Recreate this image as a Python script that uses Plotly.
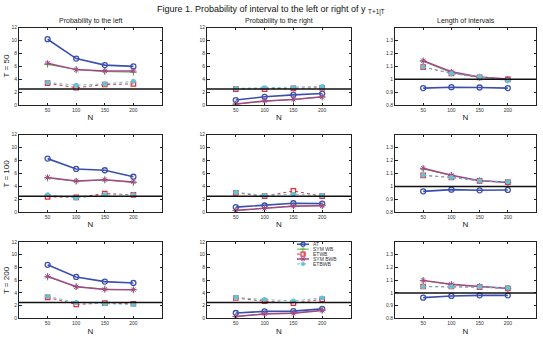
import plotly.graph_objects as go

W, H = 543, 347

N_VALUES = [50, 100, 150, 200]
SERIES = ["AT", "SYM WB", "ETWB", "SYM BWB", "ETBWB"]
ROW_LABELS = ["T = 50", "T = 100", "T = 200"]
COL_TITLES = ["Probability to the left", "Probability to the right", "Length of intervals"]
REF_LINES = [2.5, 2.5, 1.0]

# T = 50
left_T50 = {
    "AT": [10.2, 7.2, 6.2, 6.0],
    "SYM WB": [6.3, 5.5, 5.2, 5.1],
    "ETWB": [3.4, 2.7, 3.2, 3.3],
    "SYM BWB": [6.5, 5.5, 5.3, 5.3],
    "ETBWB": [3.5, 3.1, 3.3, 3.7],
}
right_T50 = {
    "AT": [0.8, 1.3, 1.6, 1.8],
    "SYM WB": [0.15, 0.6, 0.9, 1.25],
    "ETWB": [2.5, 2.5, 2.6, 2.7],
    "SYM BWB": [0.2, 0.65, 0.9, 1.3],
    "ETBWB": [2.6, 2.7, 2.7, 2.9],
}
length_T50 = {
    "AT": [0.932, 0.939, 0.937, 0.932],
    "SYM WB": [1.14, 1.05, 1.015, 0.995],
    "ETWB": [1.095, 1.045, 1.015, 1.0],
    "SYM BWB": [1.144, 1.058, 1.018, 1.003],
    "ETBWB": [1.096, 1.045, 1.02, 0.99],
}
# T = 100
left_T100 = {
    "AT": [8.3, 6.7, 6.5, 5.5],
    "SYM WB": [5.3, 4.8, 5.0, 4.6],
    "ETWB": [2.4, 2.3, 2.9, 2.7],
    "SYM BWB": [5.4, 4.85, 5.05, 4.7],
    "ETBWB": [2.7, 2.2, 2.7, 2.7],
}
right_T100 = {
    "AT": [0.8, 1.05, 1.4, 1.35],
    "SYM WB": [0.25, 0.6, 1.0, 1.05],
    "ETWB": [3.0, 2.5, 3.3, 2.5],
    "SYM BWB": [0.3, 0.6, 0.95, 1.0],
    "ETBWB": [3.1, 2.6, 2.8, 2.6],
}
length_T100 = {
    "AT": [0.962, 0.975, 0.97, 0.973],
    "SYM WB": [1.135, 1.085, 1.045, 1.03],
    "ETWB": [1.085, 1.07, 1.043, 1.033],
    "SYM BWB": [1.14, 1.087, 1.044, 1.033],
    "ETBWB": [1.087, 1.07, 1.044, 1.036],
}
# T = 200
left_T200 = {
    "AT": [8.4, 6.5, 5.77, 5.56],
    "SYM WB": [6.5, 5.0, 4.6, 4.5],
    "ETWB": [3.3, 2.2, 2.4, 2.3],
    "SYM BWB": [6.6, 4.95, 4.55, 4.5],
    "ETBWB": [3.45, 2.5, 2.3, 2.2],
}
right_T200 = {
    "AT": [0.85, 1.1, 1.15, 1.5],
    "SYM WB": [0.3, 0.75, 0.85, 1.3],
    "ETWB": [3.2, 2.7, 2.4, 3.0],
    "SYM BWB": [0.3, 0.7, 0.8, 1.25],
    "ETBWB": [3.3, 2.95, 2.75, 3.2],
}
length_T200 = {
    "AT": [0.963, 0.976, 0.981, 0.981],
    "SYM WB": [1.095, 1.065, 1.05, 1.035],
    "ETWB": [1.05, 1.05, 1.045, 1.035],
    "SYM BWB": [1.098, 1.067, 1.051, 1.036],
    "ETBWB": [1.049, 1.049, 1.046, 1.038],
}

PANELS = [
    [left_T50, right_T50, length_T50],
    [left_T100, right_T100, length_T100],
    [left_T200, right_T200, length_T200],
]

STYLE = {
    "AT": dict(color="#3b4fae", dash="solid", width=1.6, symbol="circle-open", msize=5, mlw=1.3),
    "SYM WB": dict(color="#5cb84a", dash="solid", width=1.0, symbol="cross-thin-open", msize=5, mlw=1.0),
    "ETWB": dict(color="#e0303c", dash="dot", width=1.0, symbol="square-open", msize=4.5, mlw=1.2),
    "SYM BWB": dict(color="#a8468a", dash="solid", width=1.5, symbol="asterisk-open", msize=5, mlw=1.0),
    "ETBWB": dict(color="#62c3d6", dash="dot", width=1.0, symbol="circle", msize=5, mlw=0),
}

FONT = "Liberation Sans, Arial, sans-serif"

col_px = [(19, 162), (207, 351), (395, 536)]
row_px = [(25, 104), (134, 213), (243, 321)]

fig = go.Figure()
layout = {}
ax = 0
for r in range(3):
    for c in range(3):
        ax += 1
        xa = "xaxis" if ax == 1 else f"xaxis{ax}"
        ya = "yaxis" if ax == 1 else f"yaxis{ax}"
        xr = "x" if ax == 1 else f"x{ax}"
        yr = "y" if ax == 1 else f"y{ax}"
        x0, x1 = col_px[c]
        y0, y1 = row_px[r]
        common = dict(showline=True, linecolor="#222", linewidth=1, mirror="ticks",
                      ticks="inside", ticklen=2.5, tickcolor="#222", showgrid=False,
                      zeroline=False, tickfont=dict(size=5, family=FONT, color="#333"))
        layout[xa] = dict(common, domain=[x0 / W, x1 / W], range=[0, 250],
                          tickvals=N_VALUES, anchor=yr,
                          title=dict(text="N", font=dict(size=8, family=FONT, color="#222"), standoff=2))
        if c < 2:
            layout[ya] = dict(common, domain=[1 - y1 / H, 1 - y0 / H], range=[0, 12],
                              tickvals=[0, 2, 4, 6, 8, 10, 12], anchor=xr)
        else:
            layout[ya] = dict(common, domain=[1 - y1 / H, 1 - y0 / H], range=[0.8, 1.4],
                              tickvals=[0.8, 0.9, 1.0, 1.1, 1.2, 1.3],
                              ticktext=["0.8", "0.9", "1", "1.1", "1.2", "1.3"], anchor=xr)
        data = PANELS[r][c]
        for s in SERIES:
            st = STYLE[s]
            fig.add_trace(go.Scatter(
                x=N_VALUES, y=data[s], mode="lines+markers", name=s, showlegend=False,
                xaxis=xr, yaxis=yr,
                line=dict(color=st["color"], dash=st["dash"], width=st["width"]),
                marker=dict(symbol=st["symbol"], size=st["msize"], color=st["color"],
                            line=dict(color=st["color"], width=st["mlw"]))))
        fig.add_shape(type="line", xref=f"{xr} domain", yref=yr, x0=0, x1=1,
                      y0=REF_LINES[c], y1=REF_LINES[c], line=dict(color="#111", width=1.5))

# custom compact legend (in panel row 3, col 2)
LEG_X0, LEG_X1 = 297, 309
LEG_Y0, LEG_Y1 = 243, 268
layout["xaxis10"] = dict(domain=[LEG_X0 / W, LEG_X1 / W], range=[0, 1], visible=False, anchor="y10")
layout["yaxis10"] = dict(domain=[1 - LEG_Y1 / H, 1 - LEG_Y0 / H], range=[len(SERIES) - 0.5, -0.5],
                         visible=False, anchor="x10")
annotations = []
for i, s in enumerate(SERIES):
    st = STYLE[s]
    fig.add_trace(go.Scatter(
        x=[0, 0.5, 1], y=[i, i, i], mode="lines", showlegend=False, xaxis="x10", yaxis="y10",
        line=dict(color=st["color"], dash=st["dash"], width=st["width"]), hoverinfo="skip"))
    fig.add_trace(go.Scatter(
        x=[0.5], y=[i], mode="markers", showlegend=False, xaxis="x10", yaxis="y10",
        marker=dict(symbol=st["symbol"], size=4, color=st["color"],
                    line=dict(color=st["color"], width=st["mlw"])), hoverinfo="skip"))
    annotations.append(dict(text=s, xref="paper", yref="y10", x=(LEG_X1 + 2) / W, y=i,
                            xanchor="left", yanchor="middle", showarrow=False,
                            font=dict(size=5, family=FONT, color="#333")))

# titles
annotations.append(dict(text="Figure 1. Probability of interval to the left or right of y <sub>T+1|T</sub>",
                        xref="paper", yref="paper", x=271 / W, y=1 - 7 / H, xanchor="center",
                        yanchor="middle", showarrow=False, font=dict(size=9, family=FONT, color="#111")))
for c, t in enumerate(COL_TITLES):
    x0, x1 = col_px[c]
    annotations.append(dict(text=t, xref="paper", yref="paper", x=(x0 + x1) / 2 / W,
                            y=1 - 18 / H, xanchor="center", yanchor="middle", showarrow=False,
                            font=dict(size=7, family=FONT, color="#222")))
for r, t in enumerate(ROW_LABELS):
    y0, y1 = row_px[r]
    annotations.append(dict(text=t, xref="paper", yref="paper", x=6 / W,
                            y=1 - (y0 + y1) / 2 / H, xanchor="center", yanchor="middle",
                            textangle=-90, showarrow=False,
                            font=dict(size=8, family=FONT, color="#222")))

fig.update_layout(width=W, height=H, margin=dict(l=0, r=0, t=0, b=0),
                  paper_bgcolor="white", plot_bgcolor="white", showlegend=False,
                  annotations=annotations, **layout)

fig.write_html("out.html")
